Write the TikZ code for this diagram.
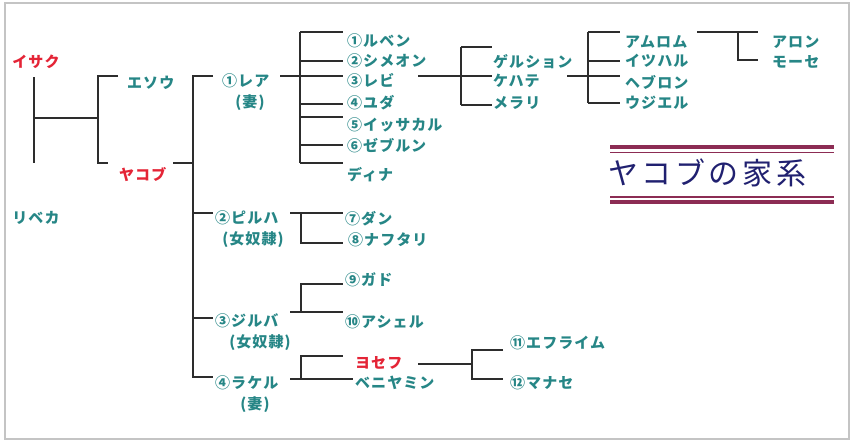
\documentclass[tikz,border=0pt]{standalone}
\usepackage{fontspec}
\newfontfamily\jpfont[LetterSpace=7]{Noto Sans CJK JP}
\newfontfamily\jptitle[LetterSpace=12]{Noto Sans CJK JP}
\usepackage{tikz}
\usetikzlibrary{positioning}
\definecolor{famteal}{RGB}{38,134,134}
\definecolor{famred}{RGB}{228,36,54}
\definecolor{linegrey}{RGB}{45,45,45}
\definecolor{framegrey}{RGB}{196,196,196}
\definecolor{titlenavy}{RGB}{32,32,112}
\definecolor{titlerule}{RGB}{140,44,84}

\begin{document}
\begin{tikzpicture}[x=1pt,y=-1pt,
		person/.style={font=\jpfont\bfseries\fontsize{15}{15}\selectfont,text=famteal,inner sep=0pt,anchor=west},
		keyperson/.style={person,text=famred},
		sub/.style={person,anchor=center},
		bar/.style={draw=linegrey,line width=1.3pt}]
		\useasboundingbox (0,0) rectangle (857,447);
		\draw[draw=framegrey,line width=2pt] (5,3) rectangle (849,439);
		% Isaac and Rebekah
		\node[keyperson,anchor=center] (isaac) at (36,62) {イサク};
		\node[person,anchor=center] (rebekah) at (36,218) {リベカ};
		\coordinate (isa) at (34,77);
		\coordinate (isb) at (34,163);
		\coordinate (ism) at (34,118);
		\coordinate (isr) at (98,118);
		\draw[bar] (isa) -- (isb);
		\draw[bar] (ism) -- (isr);
		\coordinate (ej) at (118,76);
		\coordinate (jj) at (108,163);
		\draw[bar] (ej) -| (isr) |- (jj);
		\node[person] (esau) at (127,83) {エソウ};
		\node[keyperson] (jacob) at (119,175) {ヤコブ};
		% Jacob's wives
		\coordinate (jo) at (173,163);
		\coordinate (jv) at (193,163);
		\coordinate (jb) at (193,377);
		\draw[bar] (jo) -- (jv);
		\coordinate (w1) at (213,76);
		\coordinate (w2) at (213,213);
		\coordinate (w3) at (213,318);
		\coordinate (w4) at (213,377);
		\draw[bar] (w1) -| (jb) -- (w4);
		\draw[bar] (w2) -- (w2 -| jb);
		\draw[bar] (w3) -- (w3 -| jb);
		\node[person] (leah) at (222,81) {①レア};
		\node[sub] (leahsub) at (250,103) {(妻)};
		\node[person] (bilhah) at (215,218) {②ピルハ};
		\node[sub] (bilhahsub) at (253,240) {(女奴隷)};
		\node[person] (zilpah) at (215,321) {③ジルバ};
		\node[sub] (zilpahsub) at (260,343) {(女奴隷)};
		\node[person] (rachel) at (215,383) {④ラケル};
		\node[sub] (rachelsub) at (255,405) {(妻)};
		% Leah's children
		\coordinate (lo) at (280,76);
		\coordinate (lv) at (300,76);
		\draw[bar] (lo) -- (lv);
		\foreach \lbl/\ly/\ty [count=\i] in {①ルベン/32/41,②シメオン/61/61,③レビ/76/81,④ユダ/104/103,⑤イッサカル/117/125,⑥ゼブルン/145/146,ディナ/163/175}{
			\coordinate (lj\i) at (300,\ly);
			\coordinate (le\i) at (343,\ly);
			\draw[bar] (lj\i) -- (le\i);
			\node[person] (leahson\i) at (347,\ty) {\lbl};
		}
		\draw[bar] (lj1) -- (lj7);
		% Levi's children
		\coordinate (vo) at (418,76);
		\coordinate (vv) at (461,76);
		\draw[bar] (vo) -- (vv);
		\foreach \lbl/\ly/\ty [count=\i] in {ゲルション/47/62,ケハテ/76/81,メラリ/105/103}{
			\coordinate (vj\i) at (461,\ly);
			\coordinate (ve\i) at (492,\ly);
			\draw[bar] (vj\i) -- (ve\i);
			\node[person] (levison\i) at (493,\ty) {\lbl};
		}
		\draw[bar] (vj1) -- (vj3);
		% Kohath's children
		\coordinate (ko) at (567,76);
		\coordinate (kv) at (588,76);
		\draw[bar] (ko) -- (kv);
		\foreach \lbl/\ly/\ty [count=\i] in {アムロム/32/42,イツハル/61/61,ヘブロン/76/82,ウジエル/103/103}{
			\coordinate (kj\i) at (588,\ly);
			\coordinate (ke\i) at (620,\ly);
			\draw[bar] (kj\i) -- (ke\i);
			\node[person] (kohathson\i) at (625,\ty) {\lbl};
		}
		\draw[bar] (kj1) -- (kj4);
		% Amram's children
		\coordinate (ao) at (697,32);
		\coordinate (ae1) at (758,32);
		\coordinate (aj) at (738,32);
		\coordinate (ae2) at (758,60);
		\draw[bar] (ao) -- (ae1);
		\draw[bar] (aj) |- (ae2);
		\node[person] (aaron) at (772,42) {アロン};
		\node[person] (moses) at (772,62) {モーセ};
		% Bilhah's children
		\coordinate (bo) at (290,213);
		\coordinate (be1) at (343,213);
		\coordinate (bj) at (301,213);
		\coordinate (be2) at (343,243);
		\draw[bar] (bo) -- (be1);
		\draw[bar] (bj) |- (be2);
		\node[person] (dan) at (345,219) {⑦ダン};
		\node[person] (naphtali) at (348,240) {⑧ナフタリ};
		% Zilpah's children
		\coordinate (zo) at (290,312);
		\coordinate (ze1) at (343,312);
		\coordinate (zj) at (301,312);
		\coordinate (ze2) at (343,284);
		\draw[bar] (zo) -- (ze1);
		\draw[bar] (zj) |- (ze2);
		\node[person] (gad) at (345,280) {⑨ガド};
		\node[person] (asher) at (345,322) {⑩アシェル};
		% Rachel's children
		\coordinate (ro) at (290,379);
		\coordinate (re1) at (353,379);
		\coordinate (rj) at (301,379);
		\coordinate (re2) at (343,356);
		\draw[bar] (ro) -- (re1);
		\draw[bar] (rj) |- (re2);
		\node[keyperson] (joseph) at (355,363) {ヨセフ};
		\node[person] (benjamin) at (355,383) {ベニヤミン};
		% Joseph's children
		\coordinate (yo) at (418,364);
		\coordinate (yv) at (472,364);
		\coordinate (ye1) at (503,350);
		\coordinate (ye2) at (503,379);
		\draw[bar] (yo) -- (yv);
		\draw[bar] (ye1) -| (yv) |- (ye2);
		\node[person] (ephraim) at (510,343) {⑪エフライム};
		\node[person] (manasseh) at (510,383) {⑫マナセ};
		% title
		\coordinate (ta) at (610,147);
		\coordinate (tb) at (834,147);
		\draw[draw=titlerule,line width=4pt] (ta) -- (tb);
		\draw[draw=titlerule,line width=1.8pt] ([yshift=-5.5pt]ta) -- ([yshift=-5.5pt]tb);
		\draw[draw=titlerule,line width=1.8pt] ([yshift=-50pt]ta) -- ([yshift=-50pt]tb);
		\draw[draw=titlerule,line width=4pt] ([yshift=-55pt]ta) -- ([yshift=-55pt]tb);
		\node[font=\jptitle\fontsize{30}{30}\selectfont,text=titlenavy,anchor=west,inner sep=0pt] (title) at (608,173) {ヤコブの家系};
	\end{tikzpicture}
\end{document}
